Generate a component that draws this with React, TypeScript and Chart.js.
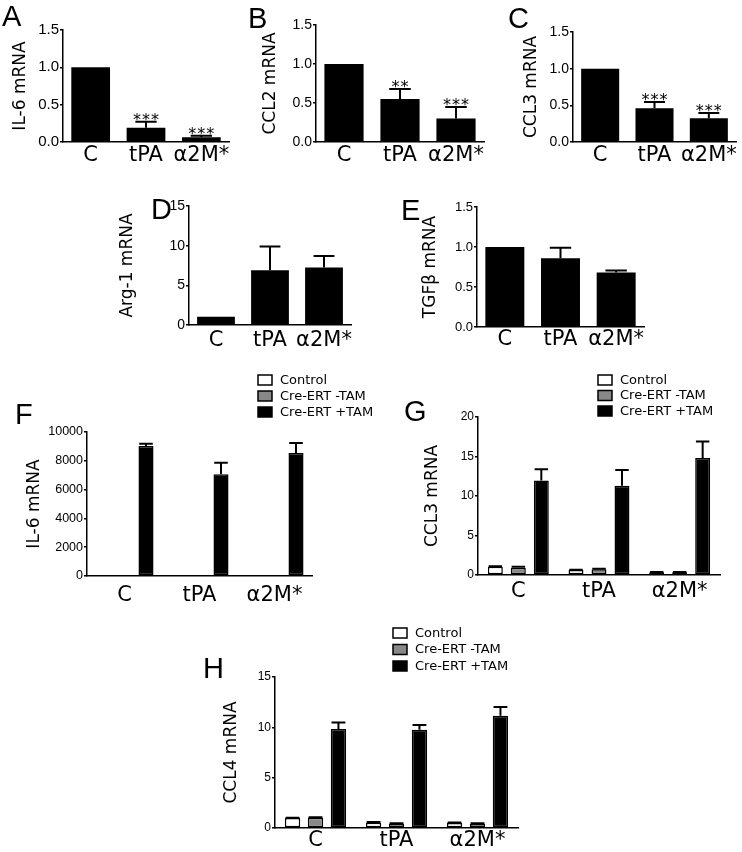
import React, { useEffect, useRef } from 'react';
import { Chart, registerables } from 'chart.js';

Chart.register(...registerables);

// ---------- data ----------
const categories = ['C', 'tPA', 'α2M*'];
const seriesNames = ['Control', 'Cre-ERT -TAM', 'Cre-ERT +TAM'];

// A: IL-6
const aMean = [1.0, 0.19, 0.065];
const aErr = [0, 0.08, 0.02];
const aStars = ['', '***', '***'];
// B: CCL2
const bMean = [1.0, 0.55, 0.3];
const bErr = [0, 0.13, 0.15];
const bStars = ['', '**', '***'];
// C: CCL3
const cMean = [1.0, 0.46, 0.325];
const cErr = [0, 0.085, 0.07];
const cStars = ['', '***', '***'];
// D: Arg-1
const dMean = [1.05, 6.9, 7.25];
const dErr = [0, 3.0, 1.45];
// E: TGFb
const eMean = [1.0, 0.86, 0.68];
const eErr = [0, 0.13, 0.025];
// F: IL-6 (mice)
const fControl = [1, 1, 1];
const fMinusTam = [1, 1, 1];
const fPlusTam = [9030, 7070, 8550];
const fControlErr = [0, 0, 0];
const fMinusTamErr = [0, 0, 0];
const fPlusTamErr = [160, 800, 690];
// G: CCL3 (mice)
const gControl = [1.05, 0.63, 0.34];
const gMinusTam = [0.93, 0.72, 0.34];
const gPlusTam = [11.95, 11.3, 14.8];
const gControlErr = [0.05, 0.05, 0.03];
const gMinusTamErr = [0.1, 0.08, 0.03];
const gPlusTamErr = [1.45, 2.0, 2.1];
// H: CCL4 (mice)
const hControl = [0.99, 0.53, 0.5];
const hMinusTam = [1.03, 0.43, 0.43];
const hPlusTam = [9.83, 9.77, 11.16];
const hControlErr = [0.02, 0.06, 0.04];
const hMinusTamErr = [0.03, 0.04, 0.04];
const hPlusTamErr = [0.65, 0.45, 0.85];

// tick values
const ticks15 = [0, 0.5, 1.0, 1.5];
const ticks15int = [0, 5, 10, 15];
const ticks10000 = [0, 2000, 4000, 6000, 8000, 10000];
const ticks20 = [0, 5, 10, 15, 20];

// ---------- styles ----------
const TEXT_FONT = '"DejaVu Sans", Verdana, sans-serif';
const TICK_FONT = '"Liberation Sans", Arial, Helvetica, sans-serif';
const BLACK = '#000000';
const GRAY = '#888888';
const WHITE = '#ffffff';

type DS = { label: string; data: number[]; err: number[]; fill: string; bw: number };
type PanelCfg = {
  letter: string;
  title: string;
  box: { left: number; top: number; width: number; height: number };
  axisX: number; axisTop: number; axisY: number; axisRight: number;
  titleX: number;
  letterPos: { x: number; y: number };
  ticks: number[]; decimals: number;
  tickFont: number; catGap: number;
  barPct: number; catPct: number; capRatio: number;
  datasets: DS[];
  stars?: string[];
  legend?: { x: number; y: number; row: number };
};

const single = (data: number[], err: number[]): DS[] => [
  { label: 'mean', data, err, fill: BLACK, bw: 0 },
];
const triple = (c: number[], ce: number[], m: number[], me: number[], p: number[], pe: number[]): DS[] => [
  { label: seriesNames[0], data: c, err: ce, fill: WHITE, bw: 1.5 },
  { label: seriesNames[1], data: m, err: me, fill: GRAY, bw: 1.5 },
  { label: seriesNames[2], data: p, err: pe, fill: BLACK, bw: 1.5 },
];

const panels: PanelCfg[] = [
  {
    letter: 'A', title: 'IL-6 mRNA',
    box: { left: 0, top: 0, width: 240, height: 175 },
    axisX: 63, axisTop: 30, axisY: 142, axisRight: 229, titleX: 21,
    letterPos: { x: 2, y: 5 }, ticks: ticks15, decimals: 1, tickFont: 15, catGap: 5,
    barPct: 0.7, catPct: 1, capRatio: 0.55,
    datasets: single(aMean, aErr), stars: aStars,
  },
  {
    letter: 'B', title: 'CCL2 mRNA',
    box: { left: 240, top: 0, width: 250, height: 175 },
    axisX: 316, axisTop: 25, axisY: 142, axisRight: 484, titleX: 271,
    letterPos: { x: 248, y: 7 }, ticks: ticks15, decimals: 1, tickFont: 14, catGap: 5,
    barPct: 0.7, catPct: 1, capRatio: 0.55,
    datasets: single(bMean, bErr), stars: bStars,
  },
  {
    letter: 'C', title: 'CCL3 mRNA',
    box: { left: 482, top: 0, width: 260, height: 175 },
    axisX: 573, axisTop: 32, axisY: 142, axisRight: 736, titleX: 532,
    letterPos: { x: 508, y: 7 }, ticks: ticks15, decimals: 1, tickFont: 14, catGap: 5,
    barPct: 0.7, catPct: 1, capRatio: 0.55,
    datasets: single(cMean, cErr), stars: cStars,
  },
  {
    letter: 'D', title: 'Arg-1 mRNA',
    box: { left: 100, top: 185, width: 265, height: 175 },
    axisX: 189, axisTop: 206, axisY: 325, axisRight: 351, titleX: 128,
    letterPos: { x: 151, y: 198 }, ticks: ticks15int, decimals: 0, tickFont: 14, catGap: 7,
    barPct: 0.7, catPct: 1, capRatio: 0.55,
    datasets: single(dMean, dErr),
  },
  {
    letter: 'E', title: 'TGFβ mRNA',
    box: { left: 395, top: 185, width: 265, height: 175 },
    axisX: 477, axisTop: 207, axisY: 327, axisRight: 644, titleX: 431,
    letterPos: { x: 401, y: 199 }, ticks: ticks15, decimals: 1, tickFont: 13, catGap: 4,
    barPct: 0.7, catPct: 1, capRatio: 0.55,
    datasets: single(eMean, eErr),
  },
  {
    letter: 'F', title: 'IL-6 mRNA',
    box: { left: 0, top: 370, width: 385, height: 240 },
    axisX: 87, axisTop: 432, axisY: 576, axisRight: 312, titleX: 35,
    letterPos: { x: 15, y: 403 }, ticks: ticks10000, decimals: 0, tickFont: 12.5, catGap: 11,
    barPct: 0.7, catPct: 0.86, capRatio: 0.9,
    datasets: triple(fControl, fControlErr, fMinusTam, fMinusTamErr, fPlusTam, fPlusTamErr),
    legend: { x: 258, y: 380, row: 16 },
  },
  {
    letter: 'G', title: 'CCL3 mRNA',
    box: { left: 380, top: 370, width: 362, height: 240 },
    axisX: 478, axisTop: 417, axisY: 575, axisRight: 720, titleX: 433,
    letterPos: { x: 404, y: 400 }, ticks: ticks20, decimals: 0, tickFont: 12, catGap: 8,
    barPct: 0.65, catPct: 0.855, capRatio: 0.9,
    datasets: triple(gControl, gControlErr, gMinusTam, gMinusTamErr, gPlusTam, gPlusTamErr),
    legend: { x: 598, y: 380, row: 15.5 },
  },
  {
    letter: 'H', title: 'CCL4 mRNA',
    box: { left: 180, top: 620, width: 360, height: 232 },
    axisX: 275, axisTop: 677, axisY: 828, axisRight: 518, titleX: 231.5,
    letterPos: { x: 203, y: 657 }, ticks: ticks15int, decimals: 0, tickFont: 12, catGap: 4,
    barPct: 0.67, catPct: 0.85, capRatio: 0.9,
    datasets: triple(hControl, hControlErr, hMinusTam, hMinusTamErr, hPlusTam, hPlusTamErr),
    legend: { x: 393, y: 633, row: 16.5 },
  },
];

function Panel({ cfg }: { cfg: PanelCfg }) {
  const ref = useRef<HTMLCanvasElement | null>(null);
  useEffect(() => {
    const canvas = ref.current;
    if (!canvas) return;
    const { box } = cfg;
    const yMax = cfg.ticks[cfg.ticks.length - 1];
    const titleSize = 17;
    const titleLH = titleSize * 1.2;

    const overlay = {
      id: 'overlay' + cfg.letter,
      afterDraw(chart: any) {
        const ctx: CanvasRenderingContext2D = chart.ctx;
        const yScale = chart.scales.y;
        ctx.save();
        // error bars
        cfg.datasets.forEach((ds, i) => {
          const meta = chart.getDatasetMeta(i);
          meta.data.forEach((bar: any, j: number) => {
            const e = ds.err[j];
            if (!e) return;
            const yTop = yScale.getPixelForValue(ds.data[j] + e);
            const cw = bar.width * cfg.capRatio;
            ctx.strokeStyle = BLACK;
            ctx.lineWidth = 2;
            ctx.beginPath();
            ctx.moveTo(bar.x, bar.y);
            ctx.lineTo(bar.x, yTop);
            ctx.moveTo(bar.x - cw / 2, yTop);
            ctx.lineTo(bar.x + cw / 2, yTop);
            ctx.stroke();
          });
        });
        // significance stars
        if (cfg.stars) {
          const ds = cfg.datasets[cfg.datasets.length - 1];
          const meta = chart.getDatasetMeta(cfg.datasets.length - 1);
          ctx.fillStyle = BLACK;
          ctx.font = `16px ${TEXT_FONT}`;
          (ctx as any).letterSpacing = '1px';
          ctx.textAlign = 'center';
          ctx.textBaseline = 'alphabetic';
          meta.data.forEach((bar: any, j: number) => {
            const s = cfg.stars![j];
            if (!s) return;
            const yTop = yScale.getPixelForValue(ds.data[j] + ds.err[j]);
            ctx.fillText(s, bar.x + 0.5, yTop + 3);
          });
          (ctx as any).letterSpacing = '0px';
        }
        // legend
        if (cfg.legend) {
          const lg = cfg.legend;
          ctx.font = `13px ${TEXT_FONT}`;
          ctx.textAlign = 'left';
          ctx.textBaseline = 'middle';
          cfg.datasets.forEach((ds, i) => {
            const cy = lg.y + i * lg.row - box.top;
            const bx = lg.x - box.left;
            ctx.fillStyle = ds.fill;
            ctx.fillRect(bx, cy - 5, 14, 10);
            ctx.strokeStyle = BLACK;
            ctx.lineWidth = 1.5;
            ctx.strokeRect(bx, cy - 5, 14, 10);
            ctx.fillStyle = BLACK;
            ctx.fillText(ds.label, bx + 22, cy + 0.5);
          });
        }
        // panel letter
        ctx.fillStyle = BLACK;
        ctx.font = `29px ${TICK_FONT}`;
        ctx.textAlign = 'left';
        ctx.textBaseline = 'alphabetic';
        ctx.fillText(cfg.letter, cfg.letterPos.x - box.left, cfg.letterPos.y + 21 - box.top);
        ctx.restore();
      },
    };

    const chart = new Chart(canvas, {
      type: 'bar',
      data: {
        labels: categories,
        datasets: cfg.datasets.map((ds) => ({
          label: ds.label,
          data: ds.data,
          backgroundColor: ds.fill,
          borderColor: BLACK,
          borderWidth: ds.bw,
          borderSkipped: false,
          barPercentage: cfg.barPct,
          categoryPercentage: cfg.catPct,
        })),
      },
      options: {
        responsive: false,
        maintainAspectRatio: false,
        animation: false,
        devicePixelRatio: 1,
        events: [],
        layout: {
          padding: {
            left: 0,
            top: cfg.axisTop - box.top,
            right: box.left + box.width - cfg.axisRight,
            bottom: 0,
          },
        },
        plugins: {
          legend: { display: false },
          tooltip: { enabled: false },
        },
        scales: {
          x: {
            type: 'category',
            offset: true,
            grid: { display: false, drawTicks: false },
            border: { display: true, color: BLACK, width: 1.5 },
            ticks: {
              color: BLACK,
              font: { family: TEXT_FONT, size: 21 },
              padding: Math.max(0, cfg.catGap - 4),
              maxRotation: 0,
              autoSkip: false,
            },
            afterFit: (s: any) => {
              s.height = box.top + box.height - cfg.axisY;
            },
          },
          y: {
            min: 0,
            max: yMax,
            grid: {
              display: true,
              drawOnChartArea: false,
              drawTicks: true,
              tickLength: 3,
              color: BLACK,
              lineWidth: 1.5,
            },
            border: { display: true, color: BLACK, width: 1.5 },
            ticks: {
              color: BLACK,
              font: { family: TICK_FONT, size: cfg.tickFont },
              padding: 1,
              callback: (v: any) => Number(v).toFixed(cfg.decimals),
            },
            afterBuildTicks: (s: any) => {
              s.ticks = cfg.ticks.map((v) => ({ value: v }));
            },
            title: {
              display: true,
              text: cfg.title,
              color: BLACK,
              font: { family: TEXT_FONT, size: titleSize },
              padding: { top: cfg.titleX - box.left - titleLH / 2, bottom: 0 },
            },
            afterFit: (s: any) => {
              s.width = cfg.axisX - box.left;
            },
          },
        },
      } as any,
      plugins: [overlay],
    });
    return () => chart.destroy();
  }, [cfg]);

  return (
    <canvas
      ref={ref}
      width={cfg.box.width}
      height={cfg.box.height}
      style={{
        position: 'absolute',
        left: cfg.box.left,
        top: cfg.box.top,
        width: cfg.box.width,
        height: cfg.box.height,
        display: 'block',
      }}
    />
  );
}

export default function App() {
  return (
    <div
      style={{
        position: 'absolute',
        left: 0,
        top: 0,
        width: 742,
        height: 852,
        background: '#ffffff',
        overflow: 'hidden',
      }}
    >
      {panels.map((p) => (
        <Panel key={p.letter} cfg={p} />
      ))}
    </div>
  );
}
